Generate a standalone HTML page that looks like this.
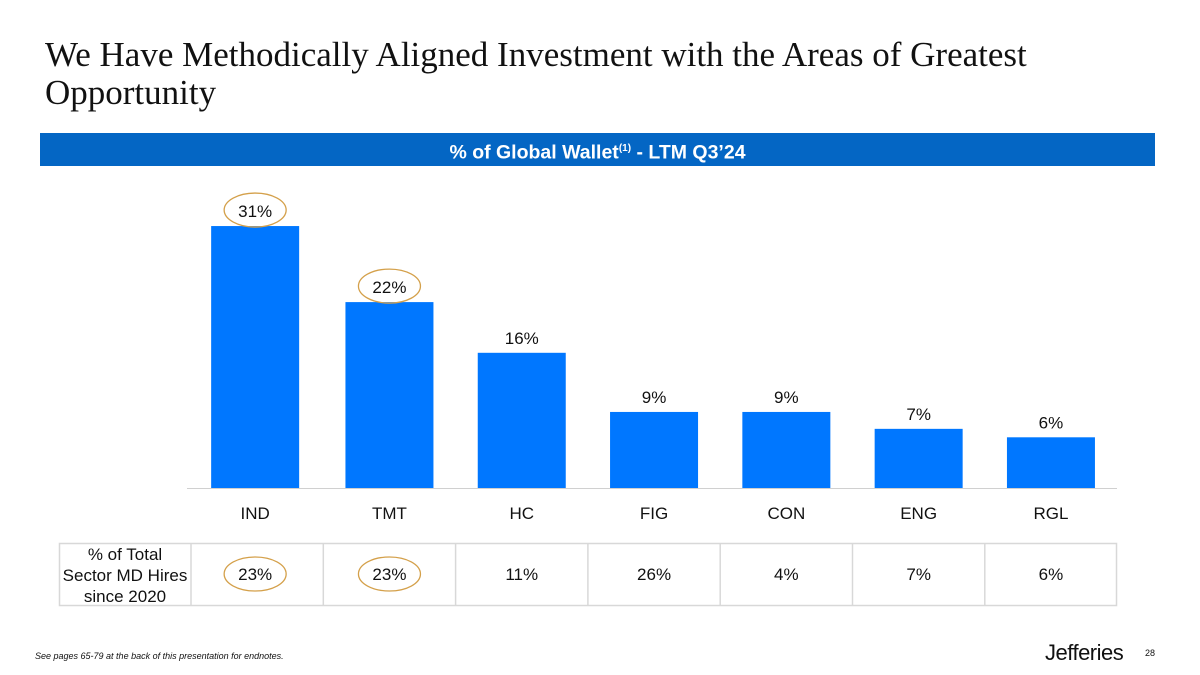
<!DOCTYPE html>
<html><head><meta charset="utf-8"><style>
body{margin:0;background:#fff;}
#root{position:relative;width:1200px;height:675px;overflow:hidden;font-family:"Liberation Sans",sans-serif;}
.title{position:absolute;left:45px;top:36px;font-family:"Liberation Serif",serif;font-size:35px;line-height:38px;color:#111;}
.band{position:absolute;left:40px;top:133px;width:1115px;height:33px;background:#0466c4;color:#fff;font-weight:bold;font-size:19.5px;text-align:center;line-height:32px;}
.foot{position:absolute;left:35px;top:651px;font-size:9px;font-style:italic;color:#111;}
.logo{position:absolute;left:1045px;top:640px;font-size:22px;color:#111;letter-spacing:-0.5px;}
.pg{position:absolute;left:1145px;top:648px;font-size:9px;color:#111;}
</style></head><body>
<div id="root">
<div class="title">We Have Methodically Aligned Investment with the Areas of Greatest<br>Opportunity</div>
<div class="band">% of Global Wallet<sup style="font-size:10px">(1)</sup> - LTM Q3’24</div>
<svg id="chart" width="1200" height="675" style="position:absolute;left:0;top:0"></svg>
<div class="foot">See pages 65-79 at the back of this presentation for endnotes.</div>
<div class="logo">Jefferies</div>
<div class="pg">28</div>
</div>
<script>
const categories=["IND","TMT","HC","FIG","CON","ENG","RGL"];
const walletValues=[31,22,16,9,9,7,6];
const hireValues=[23,23,11,26,4,7,6];
const highlightWallet=[true,true,false,false,false,false,false];
const highlightHires=[true,true,false,false,false,false,false];
const NS="http://www.w3.org/2000/svg";
const svg=document.getElementById("chart");
const baseY=488,pxPer=8.45,x0=191,colW=132.3,barW=88;
function xc(i){return x0+colW*(i+0.5)+(i===0?-2:0);}
function yv(v){return baseY-v*pxPer;}
function mk(tag,attrs,txt){const e=document.createElementNS(NS,tag);for(const k in attrs)e.setAttribute(k,attrs[k]);if(txt!==undefined)e.textContent=txt;svg.appendChild(e);return e;}
categories.forEach((c,i)=>{
  const cx=xc(i),v=walletValues[i];
  const r=mk("rect",{x:cx-barW/2,y:yv(v),width:barW,height:v*pxPer,fill:"#0077ff"});
  
  
  const t=mk("text",{x:cx,y:yv(v)-9,"text-anchor":"middle","font-size":"17","font-family":"Liberation Sans",fill:"#111"},v+"%");
  
  
  if(highlightWallet[i]){const e=mk("ellipse",{cx:cx,cy:yv(v)-16,rx:31,ry:17,fill:"none",stroke:"#d4a04a","stroke-width":"1.3"});
    
    }
  const l=mk("text",{x:cx,y:519,"text-anchor":"middle","font-size":"17","font-family":"Liberation Sans",fill:"#111"},c);
  
  
  const h=mk("text",{x:cx,y:580,"text-anchor":"middle","font-size":"17","font-family":"Liberation Sans",fill:"#111"},hireValues[i]+"%");
  
  
  if(highlightHires[i]){const e=mk("ellipse",{cx:cx,cy:574,rx:31,ry:17,fill:"none",stroke:"#d4a04a","stroke-width":"1.3"});
    
    }
});
const ax=mk("line",{x1:187,x2:1117,y1:baseY+0.5,y2:baseY+0.5,stroke:"#d0d0d0","stroke-width":"1"});


const tb=mk("rect",{x:59.5,y:543.5,width:1057,height:62,fill:"none",stroke:"#d8d8d8","stroke-width":"1.5"});


for(let i=0;i<categories.length;i++){const xx=x0+colW*i;const d=mk("line",{x1:xx,x2:xx,y1:543,y2:606,stroke:"#d8d8d8","stroke-width":"1.5"});
  
  }
["% of Total","Sector MD Hires","since 2020"].forEach((s,k)=>{const t=mk("text",{x:125,y:560+k*21,"text-anchor":"middle","font-size":"17","font-family":"Liberation Sans",fill:"#111"},s);
  
  });
</script>
</body></html>
